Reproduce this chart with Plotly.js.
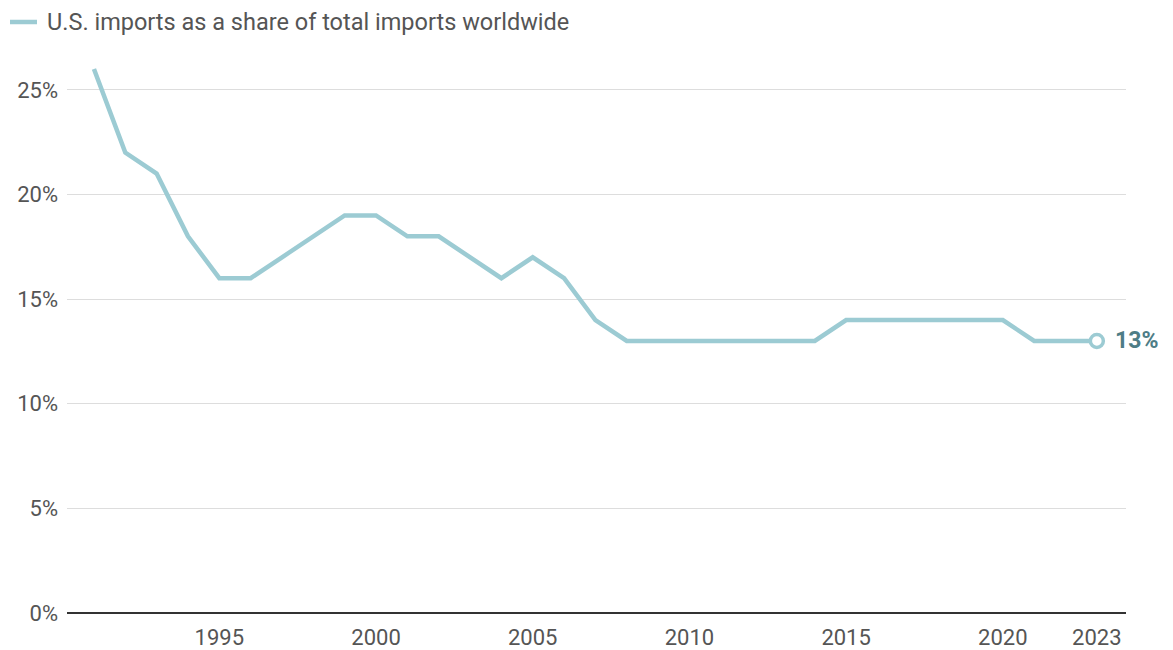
<!DOCTYPE html>
<html>
<head>
<meta charset="utf-8">
<script src="https://cdn.plot.ly/plotly-3.0.1.min.js"></script>
<style>html,body{margin:0;padding:0;background:#fff;}#chart{width:1173px;height:650px;}</style>
</head>
<body>
<div id="chart"></div>
<script>
const years = [1991,1992,1993,1994,1995,1996,1997,1998,1999,2000,2001,2002,2003,2004,2005,2006,2007,2008,2009,2010,2011,2012,2013,2014,2015,2016,2017,2018,2019,2020,2021,2022,2023];
const shares = [26,22,21,18,16,16,17,18,19,19,18,18,17,16,17,16,14,13,13,13,13,13,13,13,14,14,14,14,14,14,13,13,13];
const seriesName = "U.S. imports as a share of total imports worldwide";
const xTickVals = [1995,2000,2005,2010,2015,2020,2023];
const xTickText = ["1995","2000","2005","2010","2015","2020","2023"];
const yTickVals = [0,5,10,15,20,25];
const yTickText = ["0%","5%","10%","15%","20%","25%"];
const lastYear = years[years.length-1];
const lastVal = shares[shares.length-1];

const lineColor = "#9ccbd3";
const font = "Roboto, 'Noto Sans', sans-serif";
const W = 1173, H = 650, ML = 67, MR = 47, MT = 48, MB = 37;
const pw = W - ML - MR, ph = H - MT - MB;
const px = v => (v - ML) / pw;
const py = v => (H - MB - v) / ph;

const traces = [
  {x: years, y: shares, type: "scatter", mode: "lines", name: seriesName,
   line: {color: lineColor, width: 4.5, shape: "linear"}, hoverinfo: "skip", showlegend: false},
  {x: [lastYear], y: [lastVal], type: "scatter", mode: "markers", showlegend: false,
   marker: {color: "#ffffff", size: 13, line: {color: lineColor, width: 3.5}}, hoverinfo: "skip"}
];

const layout = {
  width: W, height: H,
  margin: {l: ML, r: MR, t: MT, b: MB},
  paper_bgcolor: "#fff", plot_bgcolor: "#fff",
  font: {family: font, color: "#555", size: 22},
  showlegend: false,
  xaxis: {range: [1990.14, 2023.93], tickvals: xTickVals, ticktext: xTickText,
          showgrid: false, zeroline: false, showline: false, ticks: "",
          ticklabelstandoff: 9,
          tickfont: {size: 22, color: "#555"}, fixedrange: true},
  yaxis: {range: [0, 27], tickvals: yTickVals, ticktext: yTickText,
          showgrid: true, gridcolor: "#dddddd", gridwidth: 1,
          zeroline: true, zerolinecolor: "#333", zerolinewidth: 2,
          showline: false, ticks: "", ticklabelstandoff: 8,
          tickfont: {size: 22, color: "#555"}, fixedrange: true},
  shapes: [
    {type: "line", xref: "paper", yref: "paper", x0: px(10), x1: px(37), y0: py(22), y1: py(22),
     line: {color: lineColor, width: 4.5}}
  ],
  annotations: [
    {xref: "paper", yref: "paper", x: px(45), y: py(22), xanchor: "left", yanchor: "middle",
     text: seriesName, showarrow: false, font: {size: 23.5, color: "#555", family: font}},
    {x: lastYear, y: lastVal, xref: "x", yref: "y", text: "<b>13%</b>", showarrow: false,
     xanchor: "left", xshift: 16, font: {size: 23, color: "#4e7d86", family: font}}
  ]
};
Plotly.newPlot("chart", traces, layout, {displayModeBar: false, staticPlot: true});
</script>
</body>
</html>
